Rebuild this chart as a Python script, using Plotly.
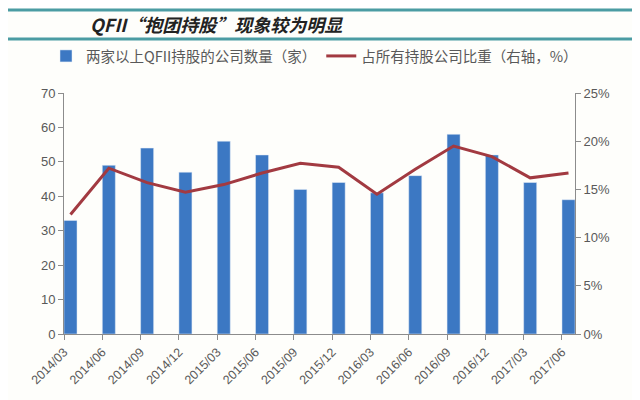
import plotly.graph_objects as go

# data
quarters = ['2014/03', '2014/06', '2014/09', '2014/12', '2015/03', '2015/06', '2015/09',
            '2015/12', '2016/03', '2016/06', '2016/09', '2016/12', '2017/03', '2017/06']
company_count = [33, 49, 54, 47, 56, 52, 42, 44, 41, 46, 58, 52, 44, 39]
share_pct = [12.4, 17.2, 15.7, 14.7, 15.5, 16.7, 17.7, 17.3, 14.5, 17.1, 19.5, 18.4, 16.2, 16.7]

idx = list(range(len(quarters)))
share = [v / 100 for v in share_pct]

# pixel helpers for the 640x400 frame (plot area 56..567 x 85..326)
L, R, T, B = 56, 567, 85, 326
def px(x):
    return (x - L) / (R - L)
def py(y):
    return (B - y) / (B - T)

teal = '#4B9CA3'
axis_col = '#8C8C8C'
txt_col = '#595959'
cjk = 'Noto Sans CJK SC'

fig = go.Figure()
fig.add_trace(go.Bar(x=idx, y=company_count, name='两家以上QFII持股的公司数量（家）',
                     marker_color='#3C78C3', width=0.34, yaxis='y'))
fig.add_trace(go.Scatter(x=idx, y=share, name='占所有持股公司比重（右轴，%）',
                         mode='lines', line=dict(color='#A23A41', width=3), yaxis='y2'))

fig.update_layout(
    width=640, height=400,
    margin=dict(l=L, r=640 - R, t=T, b=400 - B),
    paper_bgcolor='#FEFEFB', plot_bgcolor='#FEFEFB',
    font=dict(family=cjk, color=txt_col, size=12),
    showlegend=True,
    legend=dict(orientation='h', x=px(38), xanchor='left', y=py(48), yanchor='middle',
                font=dict(size=14.5, color=txt_col), bgcolor='rgba(0,0,0,0)',
                itemwidth=30, traceorder='normal'),
    xaxis=dict(range=[-0.17, len(quarters) - 0.83],
               tickvals=[i - 0.17 for i in idx], ticktext=quarters, tickangle=-45,
               showline=True, linecolor=axis_col, linewidth=1,
               ticks='outside', ticklen=5, tickcolor=axis_col,
               showgrid=False, zeroline=False,
               tickfont=dict(family='Liberation Sans', size=12.5, color=txt_col)),
    yaxis=dict(range=[0, 70], dtick=10, showline=True, linecolor=axis_col, linewidth=1,
               ticks='outside', ticklen=5, tickcolor=axis_col, showgrid=False, zeroline=False,
               tickfont=dict(family='Liberation Sans', size=13, color=txt_col)),
    yaxis2=dict(range=[0, 0.25], dtick=0.05, tickformat='.0%', overlaying='y', side='right',
                showline=True, linecolor=axis_col, linewidth=1,
                ticks='outside', ticklen=5, tickcolor=axis_col, showgrid=False, zeroline=False,
                tickfont=dict(family='Liberation Sans', size=13, color=txt_col)),
    shapes=[
        dict(type='line', xref='paper', yref='paper', x0=px(0), x1=px(640), y0=py(2), y1=py(2),
             line=dict(color=teal, width=3)),
        dict(type='line', xref='paper', yref='paper', x0=px(0), x1=px(640), y0=py(31), y1=py(31),
             line=dict(color=teal, width=3)),
        dict(type='line', xref='paper', yref='paper', x0=px(0), x1=px(640), y0=py(395), y1=py(395),
             line=dict(color=teal, width=4)),
    ],
    annotations=[
        dict(text='<b><i>QFII“抱团持股”现象较为明显</i></b>', xref='paper', yref='paper',
             x=px(80), y=py(16), xanchor='left', yanchor='middle', showarrow=False,
             font=dict(family=cjk, size=18, color='#222222')),
    ],
)

fig.write_html('out.html')
